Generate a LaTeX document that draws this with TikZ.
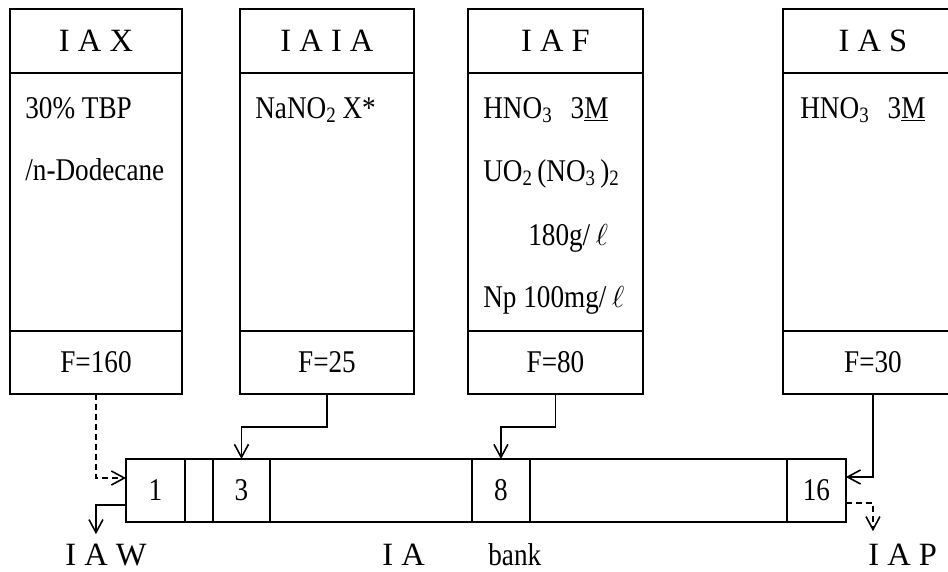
\documentclass[tikz,border=0pt]{standalone}
\usepackage{fontspec}
\setmainfont{Liberation Serif}
\newfontfamily\narrowfont[FakeStretch=0.86]{Liberation Serif}
\usetikzlibrary{arrows.meta,calc}
\newcommand\sbs[1]{\raisebox{-0.15em}{\fontsize{12.5}{12.5}\selectfont #1}}
\begin{document}
\begin{tikzpicture}[x=0.02cm,y=-0.02cm,
  txt/.style={font=\narrowfont\fontsize{18}{20}\selectfont, inner sep=0pt, anchor=base west},
  lbl/.style={font=\fontsize{18.5}{22}\selectfont, inner sep=0pt, anchor=base west},
  sec/.style={draw, line width=1pt, inner sep=0pt, outer sep=0pt, anchor=north west},
  hd/.style={sec, minimum height=1.28cm, font=\fontsize{18.5}{22}\selectfont},
  bd/.style={sec, minimum height=5.16cm},
  ft/.style={sec, minimum height=1.26cm, font=\narrowfont\fontsize{18}{20}\selectfont},
  outer/.style={line width=1.5pt},
  cell/.style={draw, line width=1pt, inner sep=0pt, outer sep=0pt, anchor=north west,
    minimum height=1.26cm, font=\narrowfont\fontsize{18}{20}\selectfont},
  arr/.style={line width=0.9pt, -{Straight Barb[length=0.26cm,width=0.28cm]}},
  darr/.style={arr, dash pattern=on 0.12cm off 0.08cm}
]
\useasboundingbox (0,0) rectangle (948,572);
\clip (0,0) rectangle (948,572);

% IAX box
\node[hd, minimum width=3.44cm] (iaxH) at (10,9) {I A X};
\node[bd, minimum width=3.44cm] (iaxB) at (iaxH.south west) {};
\node[ft, minimum width=3.44cm] (iaxF) at (iaxB.south west) {F=160};
\draw[outer] (iaxH.north west) rectangle (iaxF.south east);
\node[txt] (iaxT1) at (25,118) {30\% TBP};
\node[txt] (iaxT2) at (25,180) {/n-Dodecane};

% IAIA box
\node[hd, minimum width=3.48cm] (iaiaH) at (240,9) {I A I A};
\node[bd, minimum width=3.48cm] (iaiaB) at (iaiaH.south west) {};
\node[ft, minimum width=3.48cm] (iaiaF) at (iaiaB.south west) {F=25};
\draw[outer] (iaiaH.north west) rectangle (iaiaF.south east);
\node[txt] (iaiaT1) at (255,118) {NaNO\sbs{2} X*};

% IAF box
\node[hd, minimum width=3.5cm] (iafH) at (468,9) {I A F};
\node[bd, minimum width=3.5cm] (iafB) at (iafH.south west) {};
\node[ft, minimum width=3.5cm] (iafF) at (iafB.south west) {F=80};
\draw[outer] (iafH.north west) rectangle (iafF.south east);
\node[txt] (iafT1) at (483,118) {HNO\sbs{3}\hspace{0.6em}3\underline{M}};
\node[txt] (iafT2) at (483,181) {UO\sbs{2}\,(NO\sbs{3}\,)\sbs{2}};
\node[txt] (iafT3) at (528,245) {180g/\,$\ell$};
\node[txt] (iafT4) at (483,307) {Np 100mg/\,$\ell$};

% IAS box
\node[hd, minimum width=3.6cm] (iasH) at (783,9) {I A S};
\node[bd, minimum width=3.6cm] (iasB) at (iasH.south west) {};
\node[ft, minimum width=3.6cm] (iasF) at (iasB.south west) {F=30};
\draw[outer] (iasH.north west) rectangle (iasF.south east);
\node[txt] (iasT1) at (800,118) {HNO\sbs{3}\hspace{0.6em}3\underline{M}};

% bank
\node[cell, minimum width=1.18cm] (c1) at (126,459) {1};
\node[cell, minimum width=0.56cm] (c2) at (c1.north east) {};
\node[cell, minimum width=1.14cm] (c3) at (c2.north east) {3};
\node[cell, minimum width=4.04cm] (c4) at (c3.north east) {};
\node[cell, minimum width=1.16cm] (c8) at (c4.north east) {8};
\node[cell, minimum width=5.14cm] (c9) at (c8.north east) {};
\node[cell, minimum width=1.18cm] (c16) at (c9.north east) {16};
\draw[outer] (c1.north west) rectangle (c16.south east);

% labels
\node[lbl] (iaw) at (65,565) {I A W};
\node[lbl] (ia) at (382,565) {I A};
\node[txt] (bank) at (488,565) {bank};
\node[lbl] (iap) at (868,565) {I A P};

% connectors
\draw[darr] (iaxF.south) |- ([yshift=0.25cm]c1.west);
\draw[arr] (iaiaF.south) -- ++(0,33) -| (c3.north);
\draw[arr] (iafF.south) -- ++(0,33) -| (c8.north);
\draw[arr] (iasF.south) |- ([yshift=0.27cm]c16.east);
\draw[arr] ([yshift=-0.29cm]c1.west) -| ($(iaxF.south |- iaw.north)+(0,-9)$);
\draw[darr] ([yshift=-0.25cm]c16.east) -| ($(iasF.south |- iap.north)+(0,-12)$);
\end{tikzpicture}
\end{document}
